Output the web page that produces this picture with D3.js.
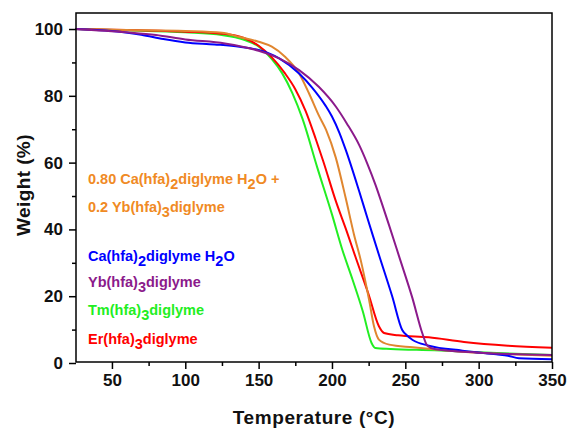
<!DOCTYPE html>
<html>
<head>
<meta charset="utf-8">
<script src="https://cdn.jsdelivr.net/npm/d3@7"></script>
<style>
  body { margin: 0; background: #fff; }
  text { font-family: "Liberation Sans", Arial, sans-serif; font-weight: bold; }
</style>
</head>
<body>
<svg width="569" height="428"></svg>
<script>
// TGA curves, [temperature °C, weight %]
const caCurve = [[25,100],[50,99.4],[70,98.3],[85,97],[100,96],[120,95.4],[137,94.7],[150,93.7],[164,91.2],[177.6,86.7],[186.6,82.4],[195.7,77],[200,73.8],[205,69],[209.4,63.8],[218.5,51.5],[224.1,43.5],[228,38],[232,32.4],[241.1,19.9],[247.9,9.9],[251,8.3],[255,6.9],[266,5.2],[289,3.7],[312,2.6],[320,2.2],[327.5,1.4],[350,1.1]];
const ybCurve = [[25,100],[60,99],[80,98.2],[100,96.9],[127,95.7],[150,93.5],[164,91.2],[177.6,87.7],[191,82.7],[202.6,76.8],[210,71.8],[218.5,65.3],[224,59.8],[229.8,53.2],[234,47.8],[238.9,41.3],[245.7,32],[254.8,19.5],[261.6,8.9],[265,5.2],[270.7,4.1],[300,3.1],[350,2.4]];
const tmCurve = [[25,100],[60,99.6],[100,99],[125,98.2],[140,96.8],[150,94.8],[159,91],[166,86.8],[173,80.8],[180,73],[190,58.5],[200,44.5],[207,34],[214,25],[221,15.5],[227,6],[229.5,4.5],[240,4.2],[270,3.8],[300,3.2],[325,2.8],[350,2.4]];
const erCurve = [[25,100],[60,99.7],[100,99.2],[125,98.6],[140,97.3],[150,95],[159,91.5],[168,86.7],[175,82],[182,75.5],[189,67],[194,60.5],[203,48],[210,39.5],[216,31.8],[225,20.5],[232,11],[235.5,9],[245,8.3],[266,7.7],[290,6.3],[320,5.2],[350,4.6]];
const mixCurve = [[25,100],[60,99.7],[100,99.4],[125,98.9],[137,97.6],[150,96.2],[159,94.7],[168,91.7],[177.6,86.7],[184.4,80.7],[191.2,74],[196,69.8],[202.6,61.5],[209.4,49.3],[215,38.5],[219.6,30.8],[225.3,18.9],[228.7,10.9],[232,7],[239,5.5],[255,4.7],[289,3.4],[323,2.6],[350,2.2]];

const seriesNames = ["0.80 Ca(hfa)2diglyme H2O + 0.2 Yb(hfa)3diglyme", "Ca(hfa)2diglyme H2O", "Yb(hfa)3diglyme", "Tm(hfa)3diglyme", "Er(hfa)3diglyme"];
const xMajorTicks = [50, 100, 150, 200, 250, 300, 350];
const xMinorTicks = [75, 125, 175, 225, 275, 325];
const yMajorTicks = [0, 20, 40, 60, 80, 100];
const yMinorTicks = [10, 30, 50, 70, 90];

const svg = d3.select("svg");
const margin = { top: 13, right: 17, bottom: 65, left: 76 };
const width = +svg.attr("width");

const x = d3.scaleLinear().domain([25.5, 350]).range([margin.left, width - margin.right]);
const y = d3.scaleLinear().domain([0, 104.8]).range([363, margin.top]);

const series = [
  { name: seriesNames[3], data: tmCurve, color: "#22ee22" },
  { name: seriesNames[4], data: erCurve, color: "#ff0000" },
  { name: seriesNames[0], data: mixCurve, color: "#e0862f" },
  { name: seriesNames[1], data: caCurve, color: "#0000ff" },
  { name: seriesNames[2], data: ybCurve, color: "#8b1a8b" }
];

const line = d3.line()
  .x(d => x(d[0]))
  .y(d => y(d[1]))
  .curve(d3.curveMonotoneX);

svg.append("g")
  .selectAll("path")
  .data(series)
  .enter()
  .append("path")
  .attr("fill", "none")
  .attr("stroke", d => d.color)
  .attr("stroke-width", 2)
  .attr("d", d => line(d.data));

// axes
const bottomY = y.range()[0] - 1;
const gx = svg.append("g").attr("transform", `translate(0,${bottomY})`)
  .call(d3.axisBottom(x).tickValues(xMajorTicks).tickSize(7).tickPadding(5));
svg.append("g").attr("transform", `translate(0,${bottomY})`)
  .call(d3.axisBottom(x).tickValues(xMinorTicks).tickSize(4).tickFormat(""));
const gy = svg.append("g").attr("transform", `translate(${margin.left},0)`)
  .call(d3.axisLeft(y).tickValues(yMajorTicks).tickSize(7).tickPadding(6));
svg.append("g").attr("transform", `translate(${margin.left},0)`)
  .call(d3.axisLeft(y).tickValues(yMinorTicks).tickSize(4).tickFormat(""));

svg.selectAll(".domain").remove();
svg.selectAll(".tick line").attr("stroke", "#000").attr("stroke-width", 1.5);
gx.selectAll("text").style("font-size", "17px").attr("fill", "#111");
gy.selectAll("text").style("font-size", "17px").attr("fill", "#111");

svg.append("rect")
  .attr("x", margin.left)
  .attr("y", margin.top)
  .attr("width", x.range()[1] - margin.left)
  .attr("height", bottomY - margin.top)
  .attr("fill", "none")
  .attr("stroke", "#000")
  .attr("stroke-width", 1.5);

svg.append("text")
  .attr("x", 314)
  .attr("y", 424)
  .attr("text-anchor", "middle")
  .style("font-size", "19px")
  .style("letter-spacing", "0.6px")
  .attr("fill", "#111")
  .text("Temperature (°C)");

svg.append("text")
  .attr("transform", "translate(30,185) rotate(-90)")
  .attr("text-anchor", "middle")
  .style("font-size", "19px")
  .style("letter-spacing", "0.4px")
  .attr("fill", "#111")
  .text("Weight (%)");

// legend labels with subscripts
const labels = [
  { y: 184, color: "#f08a24", parts: ["0.80 Ca(hfa)", "2", "diglyme H", "2", "O +"] },
  { y: 212, color: "#f08a24", parts: ["0.2 Yb(hfa)", "3", "diglyme"] },
  { y: 261, color: "#0000ff", parts: ["Ca(hfa)", "2", "diglyme H", "2", "O"] },
  { y: 287, color: "#8b1a8b", parts: ["Yb(hfa)", "3", "diglyme"] },
  { y: 315, color: "#22ee22", parts: ["Tm(hfa)", "3", "diglyme"] },
  { y: 344, color: "#ff0000", parts: ["Er(hfa)", "3", "diglyme"] }
];

labels.forEach(l => {
  const t = svg.append("text")
    .attr("x", 88)
    .attr("y", l.y)
    .attr("fill", l.color)
    .style("font-size", "14.5px");
  l.parts.forEach((p, i) => {
    const sub = i % 2 === 1;
    t.append("tspan")
      .attr("dy", i === 0 ? 0 : (sub ? 5 : -5))
      .text(p);
  });
});
</script>
</body>
</html>
